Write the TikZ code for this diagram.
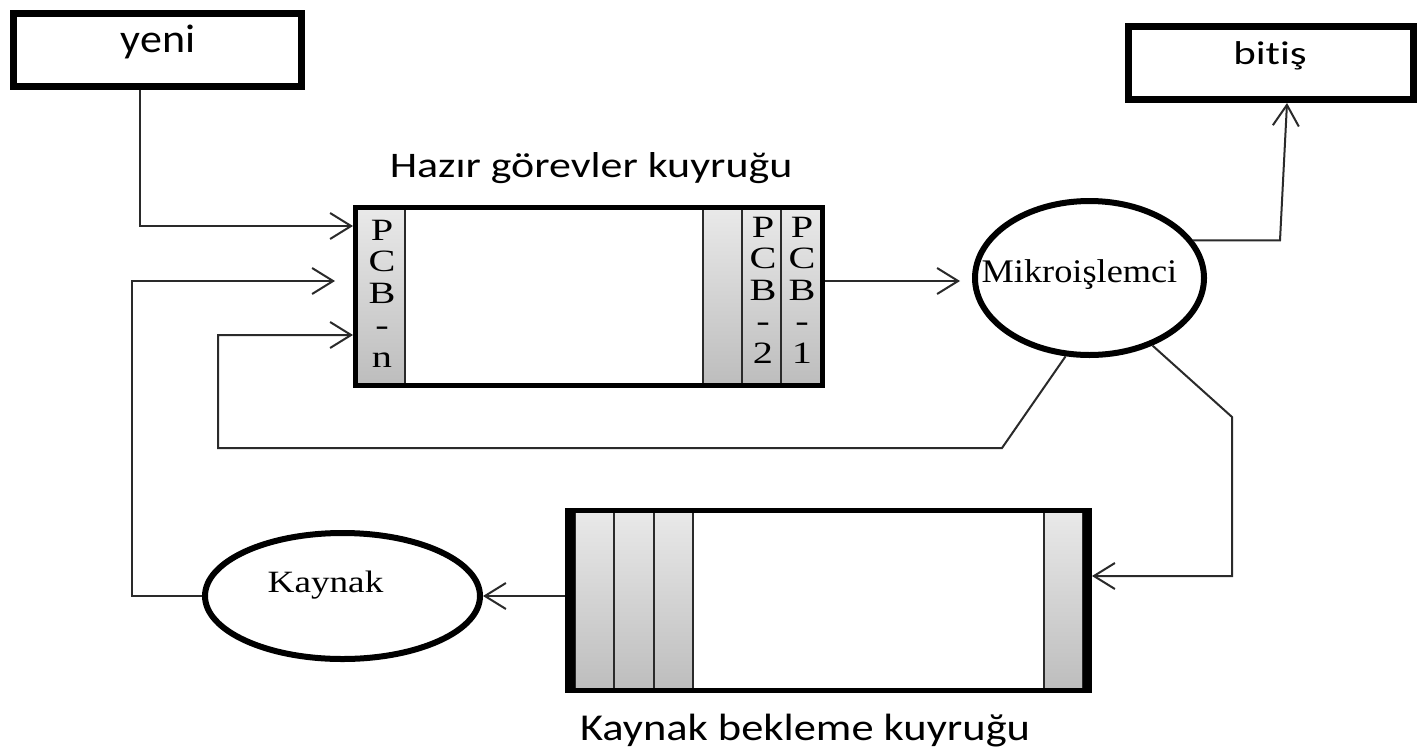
\documentclass[tikz,border=0pt]{standalone}
\usepackage{fontspec}
\setmainfont{Liberation Serif}
\newfontfamily\labelfont[Ligatures=CommonOff]{Carlito}
\usetikzlibrary{arrows.meta,shapes.geometric,calc}
\definecolor{slottop}{HTML}{E9E9E9}
\definecolor{slotbot}{HTML}{BDBDBD}
\definecolor{wire}{HTML}{2A2A2A}
\newcommand{\wide}[2]{\scalebox{#1}[1]{#2}}

\begin{document}
\begin{tikzpicture}[x=1pt,y=-1pt,
  frame/.style={draw=black, line width=5pt, rectangle, inner sep=0pt},
  termbox/.style={frame, line width=7pt, minimum height=73pt},
  unit/.style={draw=black, line width=6pt, ellipse, inner sep=0pt},
  slot/.style={draw=wire, line width=2pt, top color=slottop, bottom color=slotbot},
  wireline/.style={draw=wire, line width=2pt},
  flow/.style={wireline, -{Straight Barb[length=21pt,width=26pt,line width=2pt]}},
  sanslabel/.style={inner sep=0pt, anchor=base},
  pcb/.style={font=\fontsize{31}{34}\selectfont, inner sep=0pt, anchor=base},
]
\useasboundingbox (0,0) rectangle (1418,750);
\fill[white] (0,0) rectangle (1418,750);

% bend points of the connectors
\coordinate (yx) at (140,0);
\coordinate (yy) at (0,226);
\coordinate (mid) at (0,281);
\coordinate (bx1) at (1280,0);
\coordinate (bx2) at (1287,0);
\coordinate (l1) at (1002,448);
\coordinate (l2) at (218,448);
\coordinate (l3) at (0,335);
\coordinate (r1) at (1232,417);
\coordinate (r2) at (0,576);
\coordinate (kx) at (132,0);

% terminal boxes
\node[termbox, minimum width=288pt] (yeni) at (157.5,50) {};
\node[sanslabel, font=\labelfont\fontsize{40}{44}\selectfont] (yenitext) at (158,52) {\wide{1.1}{yeni}};
\node[termbox, minimum width=285pt] (bitis) at (1271,63) {};
\node[sanslabel, font=\labelfont\fontsize{33}{37}\selectfont] (bitistext) at (1270,64) {\wide{1.3}{bitiş}};

% ready queue
\draw[slot, line width=2.5pt] (357,209) rectangle (405,384);
\draw[slot] (703,209) rectangle (742,384);
\draw[slot] (742,209) rectangle (781,384);
\draw[slot] (781,209) rectangle (821,384);
\node[frame, minimum width=467pt, minimum height=178pt] (ready) at (589,296.5) {};
\node[sanslabel, font=\labelfont\fontsize{36}{40}\selectfont] (readytitle) at (591,177) {\wide{1.22}{Hazır görevler kuyruğu}};
\foreach \ch [count=\i] in {P,C,B,-,n}
  \node[pcb] (pn\i) at (382,{240+31.75*(\i-1)}) {\wide{1.3}{\ch}};
\foreach \ch [count=\i] in {P,C,B,-,2}
  \node[pcb] (ptwo\i) at (763,{237+31.5*(\i-1)}) {\wide{1.3}{\ch}};
\foreach \ch [count=\i] in {P,C,B,-,1}
  \node[pcb] (pone\i) at (802,{237+31.5*(\i-1)}) {\wide{1.3}{\ch}};

% resource waiting queue
\draw[slot] (575,511) rectangle (614,691);
\draw[slot] (614,511) rectangle (654,691);
\draw[slot] (654,511) rectangle (693,691);
\draw[slot] (1044,511) rectangle (1083,691);
\node[frame, minimum width=522pt, minimum height=180pt] (wait) at (828.5,600.5) {};
\fill[black] (565,508) rectangle (575,693);
\fill[black] (1083,508) rectangle (1092,693);
\node[sanslabel, font=\labelfont\fontsize{38}{42}\selectfont] (waittitle) at (805,740) {\wide{1.17}{Kaynak bekleme kuyruğu}};

% processor and resource
\node[unit, minimum width=229pt, minimum height=154pt] (mikro) at (1089.5,278) {};
\node[inner sep=0pt, anchor=base, font=\fontsize{33}{37}\selectfont] (mikrotext) at (1079.5,282) {\wide{1.1}{Mikroişlemci}};
\node[unit, minimum width=275pt, minimum height=126pt] (kaynak) at (342.5,596) {};
\node[inner sep=0pt, anchor=base, font=\fontsize{31}{35}\selectfont] (kaynaktext) at (325.5,592) {\wide{1.2}{Kaynak}};

% connectors
\draw[flow] (yeni.south -| yx) |- (ready.west |- yy);
\draw[flow, shorten >=12pt] (ready.east |- mid) -- (mikro.west |- mid);
\draw[flow] (mikro.20) -- (mikro.20 -| bx1) -- (bitis.south -| bx2);
\draw[flow] (mikro.253) -- (l1) -- (l2) |- (ready.west |- l3);
\draw[flow] (mikro.-47) -- (r1) |- (wait.east |- r2);
\draw[flow] (wait.west |- kaynak) -- (kaynak.east);
\draw[flow, shorten >=18pt] (kaynak.west) -- (kaynak.west -| kx) |- (ready.west |- mid);
\end{tikzpicture}
\end{document}
